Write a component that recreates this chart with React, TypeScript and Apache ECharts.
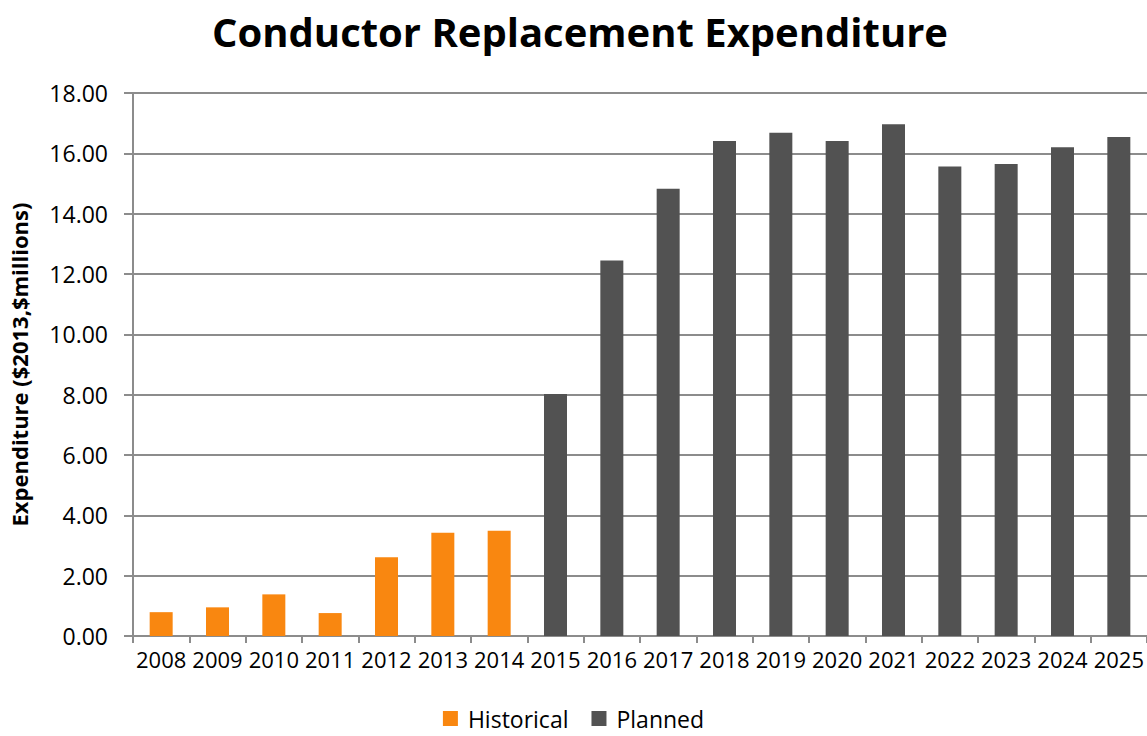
import React, { useEffect, useRef } from "react";
import * as echarts from "echarts";

const years = ["2008","2009","2010","2011","2012","2013","2014","2015","2016","2017","2018","2019","2020","2021","2022","2023","2024","2025"];
const historical = [0.79, 0.95, 1.38, 0.76, 2.61, 3.42, 3.49, null, null, null, null, null, null, null, null, null, null, null];
const planned = [null, null, null, null, null, null, null, 8.02, 12.45, 14.83, 16.41, 16.68, 16.41, 16.96, 15.56, 15.65, 16.20, 16.54];
const yTicks = { min: 0, max: 18, interval: 2 };

const FONT = "'Open Sans', 'Noto Sans', sans-serif";

export default function App() {
  const ref = useRef<HTMLDivElement>(null);
  useEffect(() => {
    const chart = echarts.init(ref.current!, null, { renderer: "svg" });
    chart.setOption({
      animation: false,
      backgroundColor: "#ffffff",
      title: {
        text: "Conductor Replacement Expenditure",
        left: 575,
        textAlign: "center",
        top: 6,
        textStyle: { fontFamily: FONT, fontWeight: "bold", fontSize: 40, color: "#000" },
      },
      legend: {
        bottom: 1,
        left: "center",
        itemWidth: 15,
        itemHeight: 15,
        itemGap: 23,
        icon: "rect",
        textStyle: { fontFamily: FONT, fontSize: 23, color: "#000", padding: [0, 0, 0, 5] },
        data: ["Historical", "Planned"],
      },
      grid: { left: 133, right: 0, top: 93, bottom: 100, containLabel: false },
      xAxis: {
        type: "category",
        data: years,
        axisLine: { lineStyle: { color: "#8c8c8c", width: 2 } },
        axisTick: { show: true, alignWithLabel: false, length: 7, lineStyle: { color: "#8c8c8c", width: 2 } },
        axisLabel: { fontFamily: FONT, fontSize: 22, color: "#000", margin: 12, interval: 0 },
      },
      yAxis: {
        type: "value",
        min: yTicks.min,
        max: yTicks.max,
        interval: yTicks.interval,
        name: "Expenditure ($2013,$millions)",
        nameLocation: "middle",
        nameGap: 103,
        nameRotate: 90,
        nameTextStyle: { fontFamily: FONT, fontWeight: "bold", fontSize: 22, color: "#000" },
        axisLine: { show: true, lineStyle: { color: "#8c8c8c", width: 2 } },
        axisTick: { show: true, length: 9, lineStyle: { color: "#8c8c8c", width: 2 } },
        axisLabel: { fontFamily: FONT, fontSize: 23, color: "#000", margin: 25, formatter: (v: number) => v.toFixed(2) },
        splitLine: { show: true, lineStyle: { color: "#8c8c8c", width: 2 } },
      },
      series: [
        { name: "Historical", type: "bar", stack: "all", data: historical, barWidth: 23, itemStyle: { color: "#F98710" } },
        { name: "Planned", type: "bar", stack: "all", data: planned, barWidth: 23, itemStyle: { color: "#525252" } },
      ],
    });
    return () => chart.dispose();
  }, []);
  return <div ref={ref} style={{ width: 1147, height: 736, position: "absolute", left: 0, top: 0 }} />;
}
